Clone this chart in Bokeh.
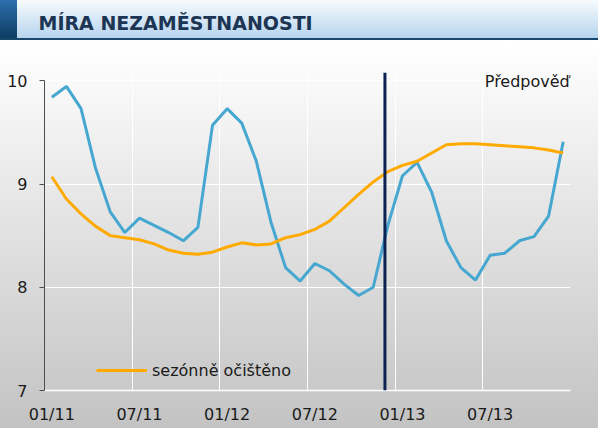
from bokeh.plotting import figure
from bokeh.models import Range1d, FixedTicker, Span, Label, Legend, LegendItem, ColumnDataSource, Title
from bokeh.embed import file_html
from bokeh.resources import INLINE

# ---- data ----
month_pos = list(range(36))  # Jan 2011 .. Dec 2013
tick_pos = [0, 6, 12, 18, 24, 30]
tick_labels = ["01/11", "07/11", "01/12", "07/12", "01/13", "07/13"]
y_ticks = [7, 8, 9, 10]

unadjusted = [9.84, 9.945, 9.73, 9.15, 8.73, 8.53, 8.67, 8.60, 8.53, 8.45, 8.58, 9.57,
              9.73, 9.59, 9.22, 8.63, 8.19, 8.06, 8.23, 8.16, 8.03, 7.92, 8.00, 8.60,
              9.08, 9.21, 8.92, 8.45, 8.19, 8.07, 8.31, 8.33, 8.45, 8.49, 8.69, 9.41]
seasonally_adjusted = [9.07, 8.855, 8.71, 8.59, 8.50, 8.48, 8.46, 8.42, 8.36, 8.33, 8.32, 8.34,
                       8.39, 8.43, 8.41, 8.42, 8.48, 8.51, 8.56, 8.64, 8.77, 8.90, 9.02, 9.12,
                       9.18, 9.22, 9.30, 9.38, 9.39, 9.39, 9.38, 9.37, 9.36, 9.35, 9.33, 9.30]
forecast_start = 23.3   # forecast divider position (months from the left edge of Jan 2011)
legend_label = "sezónně očištěno"
title_text = "MÍRA NEZAMĚSTNANOSTI"
forecast_text = "Předpověď"

FONT = "DejaVu Sans"

src = ColumnDataSource(dict(x=[m + 0.5 for m in month_pos], nsa=unadjusted, sa=seasonally_adjusted))

p = figure(width=598, height=428, x_range=Range1d(0, 36), y_range=Range1d(7, 10.08),
           output_backend="svg", toolbar_location=None,
           min_border_left=44, min_border_right=28, min_border_top=72, min_border_bottom=38,
           background_fill_color=None, border_fill_color=None, outline_line_color=None)
p.styles = {
    "margin-bottom": "-8px",
    "background": (
        "linear-gradient(#17476b,#17476b) 0px 38px / 100% 2px no-repeat, "
        "linear-gradient(to bottom,#2d6fae,#0c3a5f) 0px 0px / 17px 40px no-repeat, "
        "linear-gradient(to bottom,#f8fbfe,#b6d4ee) 0px 0px / 100% 38px no-repeat, "
        "linear-gradient(to bottom,#ffffff,#c3c3c3) 0px 44px / 100% 384px no-repeat, "
        "#ffffff"),
}

# heading in the banner (outermost title panel)
p.title.text = title_text
p.title.align = "left"
p.title.offset = -6
p.title.standoff = 0
p.title.vertical_align = "middle"
p.title.text_font = FONT
p.title.text_font_size = "19px"
p.title.text_font_style = "bold"
p.title.text_color = "#1c3553"

# spacer between the banner heading and the plot frame
p.add_layout(Title(text=" ", text_font_size="10px", standoff=25), "above")

# grids
p.xgrid.ticker = FixedTicker(ticks=[6, 12, 18, 24, 30, 36])
p.xgrid.grid_line_color = "white"
p.xgrid.grid_line_width = 1
p.ygrid.ticker = FixedTicker(ticks=[8, 9, 10])
p.ygrid.grid_line_color = "white"
p.ygrid.grid_line_width = 1

# lines
p.line("x", "nsa", source=src, line_color="#46a7d1", line_width=3)
sa_r = p.line("x", "sa", source=src, line_color="#ffaa00", line_width=3)

# forecast divider
p.add_layout(Span(location=forecast_start, dimension="height", line_color="#0b2253", line_width=3))

# axes
p.xaxis.ticker = FixedTicker(ticks=[tp + 0.5 for tp in tick_pos])
p.xaxis.major_label_overrides = {tp + 0.5: lab for tp, lab in zip(tick_pos, tick_labels)}
p.xaxis.axis_line_color = "white"
p.xaxis.axis_line_width = 1.5
p.xaxis.major_tick_line_color = None
p.xaxis.minor_tick_line_color = None
p.xaxis.major_tick_out = 0
p.xaxis.major_tick_in = 0
p.xaxis.major_label_standoff = 14
p.xaxis.major_label_text_line_height = 0.9

p.yaxis.ticker = FixedTicker(ticks=y_ticks)
p.yaxis.bounds = (7, 10)
p.yaxis.axis_line_color = "#4d4d4d"
p.yaxis.major_tick_line_color = "#4d4d4d"
p.yaxis.major_tick_out = 5
p.yaxis.major_tick_in = 0
p.yaxis.minor_tick_line_color = None
p.yaxis.major_label_standoff = 12

for ax in (p.xaxis, p.yaxis):
    ax.major_label_text_font = FONT
    ax.major_label_text_font_size = "16px"
    ax.major_label_text_color = "#1a1a1a"

# legend
legend = Legend(items=[LegendItem(label=legend_label, renderers=[sa_r])], location=(52, 10),
                border_line_color=None, background_fill_alpha=0, padding=0, margin=0,
                glyph_width=51, glyph_height=20, label_height=20, label_standoff=5,
                label_text_font=FONT, label_text_font_size="16px", label_text_color="#1a1a1a")
p.add_layout(legend)

# forecast label
p.add_layout(Label(x=35.95, y=9.997, text=forecast_text, text_font=FONT, text_font_size="16px",
                   text_color="#1a1a1a", text_align="right", text_baseline="middle"))

open("out.html", "w").write(file_html(p, INLINE))
